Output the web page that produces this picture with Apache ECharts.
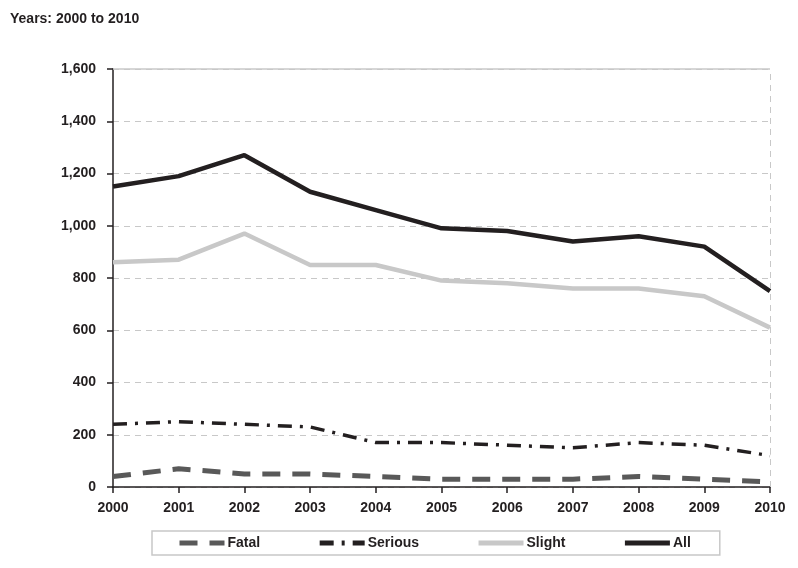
<!DOCTYPE html>
<html><head><meta charset="utf-8">
<script src="https://cdn.jsdelivr.net/npm/echarts@6/dist/echarts.min.js"></script>
<style>html,body{margin:0;padding:0;background:#fff}#c{width:798px;height:568px}</style>
</head><body><div id="c"></div>
<script>
const years = ['2000','2001','2002','2003','2004','2005','2006','2007','2008','2009','2010'];
const fatal = [40, 70, 50, 50, 40, 30, 30, 30, 40, 30, 20];
const serious = [240, 250, 240, 230, 170, 170, 160, 150, 170, 160, 120];
const slight = [860, 870, 970, 850, 850, 790, 780, 760, 760, 730, 610];
const all = [1150, 1190, 1270, 1130, 1060, 990, 980, 940, 960, 920, 750];
const yTicks = {min: 0, max: 1600, interval: 200};

const font = 'Liberation Sans, Arial, sans-serif';
const chart = echarts.init(document.getElementById('c'));
chart.setOption({
  animation: false,
  title: {text: 'Years: 2000 to 2010', left: 10, top: 12, padding: 0,
    textStyle: {fontFamily: font, fontSize: 14, fontWeight: 'bold', color: '#231f20'}},
  grid: {left: 113, right: 28, top: 69, bottom: 81},
  legend: {
    left: 152, top: 531, width: 568,
    padding: [5, 29, 5, 25], itemGap: 57, itemWidth: 45, itemHeight: 10,
    borderColor: '#c8c8c8', borderWidth: 1.5,
    itemStyle: {opacity: 0},
    lineStyle: {width: 5},
    textStyle: {fontFamily: font, fontSize: 14, fontWeight: 'bold', color: '#231f20', padding: [0, 0, 0, -2]},
    data: ['Fatal', 'Serious', 'Slight', 'All']
  },
  xAxis: {
    type: 'category', data: years, boundaryGap: false,
    axisLine: {lineStyle: {color: '#231f20', width: 1.5}},
    axisTick: {show: true, length: 6, lineStyle: {color: '#231f20', width: 1.5}},
    axisLabel: {fontFamily: font, fontSize: 14, fontWeight: 'bold', color: '#231f20', margin: 14,
      showMinLabel: true, showMaxLabel: true},
    splitLine: {show: false}
  },
  yAxis: {
    type: 'value', min: yTicks.min, max: yTicks.max, interval: yTicks.interval,
    axisLine: {show: true, lineStyle: {color: '#231f20', width: 1.5}},
    axisTick: {show: true, length: 6, lineStyle: {color: '#231f20', width: 1.5}},
    axisLabel: {fontFamily: font, fontSize: 14, fontWeight: 'bold', color: '#231f20', margin: 17,
      formatter: v => v.toLocaleString('en-US')},
    splitLine: {show: true, lineStyle: {color: '#c8c8c8', type: [6, 5], width: 1}}
  },
  series: [
    {name: 'Fatal', type: 'line', data: fatal, symbol: 'none',
     lineStyle: {color: '#595959', width: 5, type: [18, 12]}, itemStyle: {color: '#595959'}},
    {name: 'Serious', type: 'line', data: serious, symbol: 'none',
     lineStyle: {color: '#231f20', width: 3.5, type: [14, 8, 3, 8]}, itemStyle: {color: '#231f20'}},
    {name: 'Slight', type: 'line', data: slight, symbol: 'none',
     lineStyle: {color: '#c8c8c8', width: 4.5}, itemStyle: {color: '#c8c8c8'}},
    {name: 'All', type: 'line', data: all, symbol: 'none',
     lineStyle: {color: '#231f20', width: 4.5}, itemStyle: {color: '#231f20'},
     markLine: {silent: true, symbol: 'none', label: {show: false},
       data: [
         {yAxis: 1600, lineStyle: {color: '#c8c8c8', type: 'solid', width: 1.5}},
         {xAxis: '2010', lineStyle: {color: '#c8c8c8', type: [6, 5], width: 1}}
       ]}}
  ]
});
</script></body></html>
